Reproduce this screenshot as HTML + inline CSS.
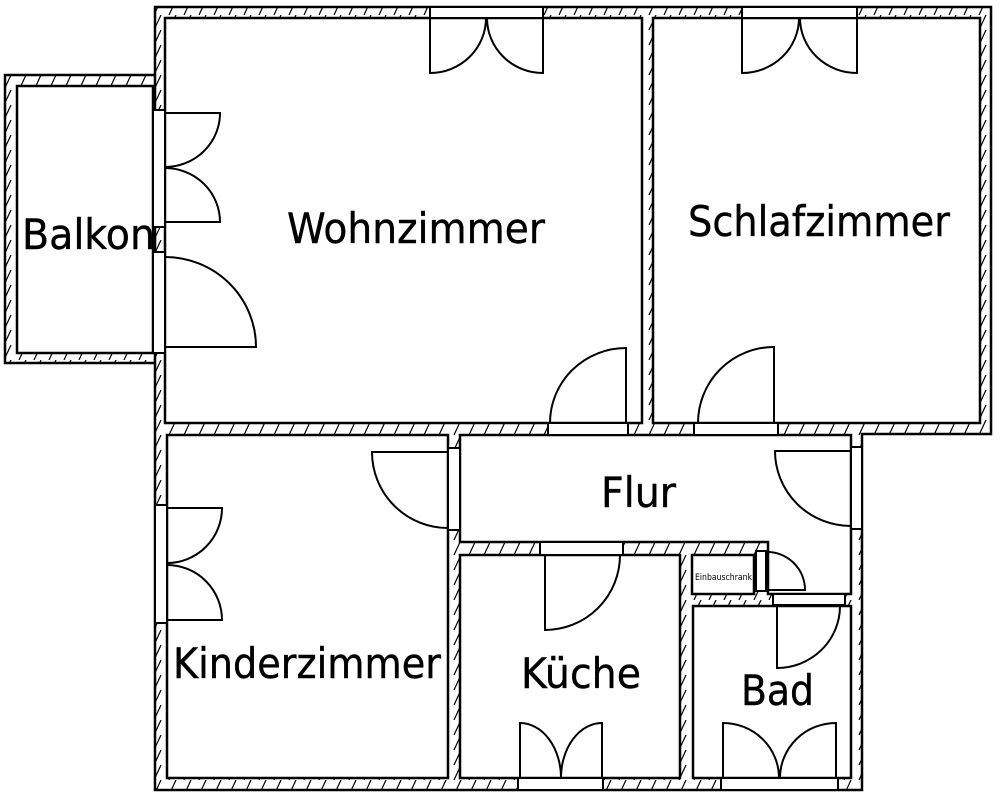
<!DOCTYPE html>
<html><head><meta charset="utf-8"><style>
html,body{margin:0;padding:0;background:#fff;}
svg{display:block;}
text{font-family:"DejaVu Sans","Liberation Sans",sans-serif;fill:#000;stroke:#000;stroke-width:0.4;}
</style></head><body>
<svg width="1000" height="799" viewBox="0 0 1000 799" xmlns="http://www.w3.org/2000/svg">
<defs>
<pattern id="h" patternUnits="userSpaceOnUse" width="15" height="15">
<rect width="15" height="15" fill="#fff"/>
<line x1="4" y1="15" x2="11" y2="0" stroke="#000" stroke-width="1.2"/>
</pattern>
</defs>
<g stroke="#000" stroke-width="2.5" fill="url(#h)">
<rect x="5" y="75" width="155" height="288"/>
<path d="M155,7 H991 V434 H862 V790 H155 Z"/>
</g>
<g stroke="#000" stroke-width="2.5" fill="#fff">
<rect x="17" y="86" width="136" height="267"/>
<rect x="165" y="18" width="477" height="405"/>
<rect x="653" y="18" width="327" height="405"/>
<rect x="167" y="435" width="281" height="343"/>
<path d="M460,435 H851 V594 H768 V542 H460 Z"/>
<rect x="460" y="555" width="220" height="223"/>
<rect x="692" y="555" width="62" height="39"/>
<rect x="693" y="606" width="158" height="172"/>
</g>
<g stroke="#000" stroke-width="2" fill="#fff">
<rect x="430" y="7" width="113" height="11"/>
<rect x="742" y="7" width="115" height="11"/>
<rect x="153" y="110" width="12" height="117"/>
<rect x="153" y="252" width="12" height="101"/>
<rect x="548" y="423" width="80" height="12"/>
<rect x="694" y="423" width="84" height="12"/>
<rect x="448" y="448" width="12" height="82"/>
<rect x="155" y="505" width="12" height="118"/>
<rect x="851" y="447" width="11" height="82"/>
<rect x="540" y="542" width="83" height="13"/>
<rect x="518" y="778" width="85" height="12"/>
<rect x="773" y="594" width="72" height="11"/>
<rect x="721" y="778" width="117" height="12"/>
<rect x="756" y="551" width="10" height="40"/>
</g>
<g stroke="#000" stroke-width="2" fill="none">
<path d="M430,18 V73 A56,55 0 0 0 486,18 M543,18 V73 A56,55 0 0 1 487,18"/>
<path d="M742,18 V73 A57,55 0 0 0 799,18 M857,18 V73 A57,55 0 0 1 800,18"/>
<path d="M165,113 H220 A55,54 0 0 1 165,167 M165,222 H220 A55,54 0 0 0 165,168"/>
<path d="M165,347 H256 A91,90 0 0 0 165,257"/>
<path d="M626,423 V348 A76,75 0 0 0 550,423"/>
<path d="M774,423 V347 A76,76 0 0 0 698,423"/>
<path d="M448,452 H372 A76,76 0 0 0 448,528"/>
<path d="M167,508 H222 A55,55 0 0 1 167,563 M167,620 H222 A55,55 0 0 0 167,565"/>
<path d="M851,451 H775 A76,75 0 0 0 851,526"/>
<path d="M545,555 V630 A75,75 0 0 0 620,555"/>
<path d="M520,778 V723 A41,55 0 0 1 561,778 M602,778 V723 A41,55 0 0 0 561,778"/>
<path d="M777,606 V668 A63,62 0 0 0 840,606"/>
<path d="M723,778 V723 A56,55 0 0 1 779,778 M836,778 V723 A56,55 0 0 0 780,778"/>
<path d="M767,590 H805 A38,38 0 0 0 767,552"/>
</g>
<text x="22" y="249" font-size="42" textLength="133" lengthAdjust="spacingAndGlyphs">Balkon</text>
<text x="287" y="243" font-size="42" textLength="258" lengthAdjust="spacingAndGlyphs">Wohnzimmer</text>
<text x="688" y="236" font-size="42" textLength="262" lengthAdjust="spacingAndGlyphs">Schlafzimmer</text>
<text x="601" y="507" font-size="42" textLength="75" lengthAdjust="spacingAndGlyphs">Flur</text>
<text x="173" y="678" font-size="42" textLength="268" lengthAdjust="spacingAndGlyphs">Kinderzimmer</text>
<text x="521" y="688" font-size="42" textLength="120" lengthAdjust="spacingAndGlyphs">Küche</text>
<text x="741" y="705" font-size="42" textLength="73" lengthAdjust="spacingAndGlyphs">Bad</text>
<text x="695" y="580" font-size="9" style="stroke-width:0" textLength="57" lengthAdjust="spacingAndGlyphs">Einbauschrank</text>
</svg>
</body></html>
